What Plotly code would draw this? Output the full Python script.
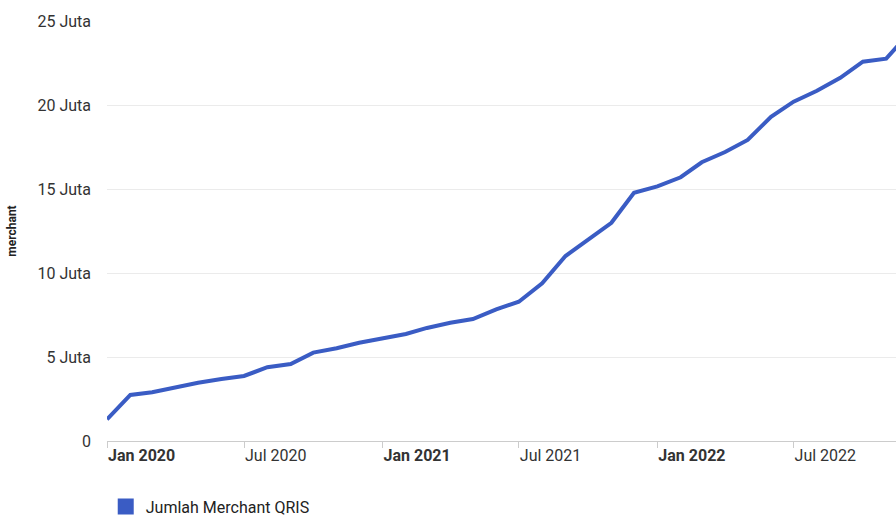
import plotly.graph_objects as go

months = [
    "2020-01-01", "2020-02-01", "2020-03-01", "2020-04-01", "2020-05-01", "2020-06-01",
    "2020-07-01", "2020-08-01", "2020-09-01", "2020-10-01", "2020-11-01", "2020-12-01",
    "2021-01-01", "2021-02-01", "2021-03-01", "2021-04-01", "2021-05-01", "2021-06-01",
    "2021-07-01", "2021-08-01", "2021-09-01", "2021-10-01", "2021-11-01", "2021-12-01",
    "2022-01-01", "2022-02-01", "2022-03-01", "2022-04-01", "2022-05-01", "2022-06-01",
    "2022-07-01", "2022-08-01", "2022-09-01", "2022-10-01", "2022-11-01", "2022-12-01",
]
merchants_juta = [
    1.29, 2.74, 2.90, 3.20, 3.47, 3.69,
    3.87, 4.39, 4.58, 5.26, 5.52, 5.85,
    6.11, 6.37, 6.73, 7.04, 7.26, 7.84,
    8.29, 9.39, 11.01, 11.96, 12.99, 14.78,
    15.16, 15.70, 16.59, 17.20, 17.92, 19.30,
    20.20, 20.85, 21.62, 22.58, 22.76, 24.25,
]
series_name = "Jumlah Merchant QRIS"

x_tick_vals = ["2020-01-01", "2020-07-01", "2021-01-01", "2021-07-01", "2022-01-01", "2022-07-01"]
x_tick_text = ["<b>Jan 2020</b>", "Jul 2020", "<b>Jan 2021</b>", "Jul 2021", "<b>Jan 2022</b>", "Jul 2022"]
y_tick_vals = [0, 5, 10, 15, 20, 25]
y_tick_text = ["0", "5 Juta", "10 Juta", "15 Juta", "20 Juta", "25 Juta"]

color = "#3a5cc4"

fig = go.Figure()
fig.add_trace(go.Scatter(
    x=months, y=merchants_juta, mode="lines",
    line=dict(color=color, width=4),
    showlegend=False, name=series_name,
))
fig.add_trace(go.Scatter(
    x=[None], y=[None], mode="markers",
    marker=dict(symbol="square", size=20, color=color),
    name=series_name, showlegend=True,
))

fig.update_layout(
    width=896, height=516,
    margin=dict(l=107, r=0, t=21, b=75, autoexpand=False),
    paper_bgcolor="white", plot_bgcolor="white",
    font=dict(family="Roboto, Arial, sans-serif", size=16, color="#333"),
    legend=dict(
        xref="container", yref="container",
        x=0.118, xanchor="left", y=0.018, yanchor="middle",
        orientation="h", font=dict(size=16, color="#222"),
        bgcolor="rgba(0,0,0,0)",
    ),
    xaxis=dict(
        type="date",
        range=["2020-01-01", "2022-11-14"],
        automargin=False,
        tickvals=x_tick_vals, ticktext=x_tick_text,
        ticklabelposition="outside right",
        showgrid=False, zeroline=False,
        showline=True, linecolor="#cccccc", linewidth=1,
        ticks="outside", ticklen=6, tickcolor="#cccccc",
        tickfont=dict(size=16, color="#333"),
    ),
    yaxis=dict(
        range=[0, 25],
        automargin=False,
        tickvals=y_tick_vals, ticktext=y_tick_text,
        showgrid=True, gridcolor="#ebebeb", gridwidth=1,
        zeroline=False, showline=False, ticks="",
        ticklabelstandoff=15,
        tickfont=dict(size=16, color="#333"),
        title=dict(text="<b>merchant</b>", font=dict(size=12, color="#222"), standoff=18),
    ),
)

fig.write_html(
    "out.html",
    config={"displayModeBar": False},
    post_script="document.body.style.margin='0';document.body.style.overflow='hidden';",
)
